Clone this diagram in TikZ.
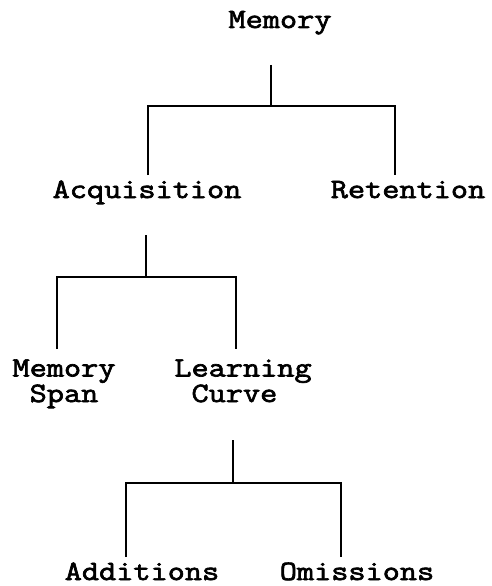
\documentclass[tikz,border=0pt]{standalone}
\usepackage{fontspec}
\newfontfamily\treefont{Latin Modern Mono}[FakeBold=2.5,FakeStretch=1.19]
\usetikzlibrary{positioning}

\begin{document}
\begin{tikzpicture}[x=1pt,y=-1pt]
  \tikzset{term/.style={font=\treefont\fontsize{28}{25.5}\selectfont,inner sep=0pt,anchor=base,align=left},
    branch/.style={line width=1.7pt}}
  \useasboundingbox (0,0) rectangle (491,586);
  % top level
  \node[term] (mem) at (280,28) {Memory};
  \node[term] (acq) at (147,198) {Acquisition};
  \node[term] (ret) at (408,198) {Retention};
  \coordinate (j1) at (271,106);
  \draw[branch] ([yshift=-37pt]mem.base -| j1) -- (j1);
  \draw[branch] ([xshift=1pt,yshift=23pt]acq.base) |- (j1) -| ([xshift=-13pt,yshift=23pt]ret.base);
  % acquisition
  \node[term] (span) at (64,402) {Memory\\\hphantom{S}Span};
  \node[term] (learn) at (243,402) {Learning\\\hphantom{C}Curve};
  \coordinate (j2) at (146,277);
  \draw[branch] ([yshift=-37pt]acq.base -| j2) -- (j2);
  \draw[branch] ([xshift=-7pt,yshift=53pt]span.base) |- (j2) -| ([xshift=-7pt,yshift=53pt]learn.base);
  % learning curve
  \node[term] (add) at (142,580) {Additions};
  \node[term] (omit) at (357,580) {Omissions};
  \coordinate (j3) at (233,483);
  \draw[branch] ([yshift=-38pt]learn.base -| j3) -- (j3);
  \draw[branch] ([xshift=-16pt,yshift=23pt]add.base) |- (j3) -| ([xshift=-16pt,yshift=23pt]omit.base);
\end{tikzpicture}
\end{document}
